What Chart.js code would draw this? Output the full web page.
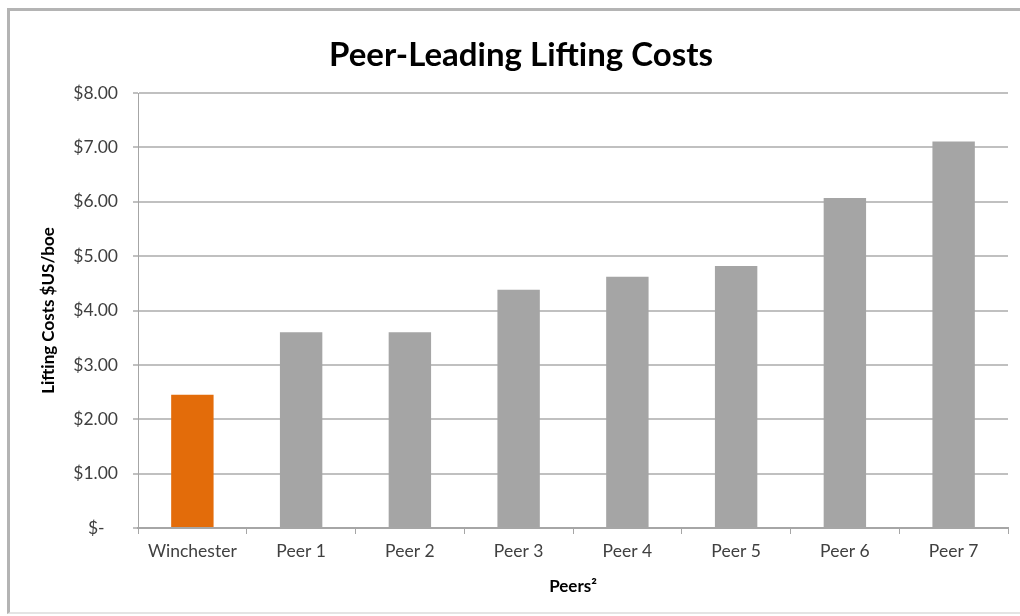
<!DOCTYPE html>
<html>
<head>
<meta charset="utf-8">
<script src="https://cdn.jsdelivr.net/npm/chart.js@4/dist/chart.umd.min.js"></script>
<style>
  html, body { margin: 0; padding: 0; background: #ffffff; }
  #wrap { position: relative; width: 1020px; height: 616px; overflow: hidden; }
  #frame { position: absolute; left: 7px; top: 8px; width: 1040px; height: 606px; border: 3px solid #b4b4b4; border-bottom: 2px solid #e4e4e4; box-sizing: border-box; }
  #c { position: absolute; left: 0; top: 0; }
</style>
</head>
<body>
<div id="wrap">
  <div id="frame"></div>
  <canvas id="c" width="1020" height="616"></canvas>
</div>
<script>
const categories = ['Winchester', 'Peer 1', 'Peer 2', 'Peer 3', 'Peer 4', 'Peer 5', 'Peer 6', 'Peer 7'];
const liftingCosts = [2.45, 3.60, 3.60, 4.38, 4.62, 4.82, 6.07, 7.11];
const barColors = ['#E36C0A', '#A5A5A5', '#A5A5A5', '#A5A5A5', '#A5A5A5', '#A5A5A5', '#A5A5A5', '#A5A5A5'];
const yTickLabels = ['$-   ', '$1.00', '$2.00', '$3.00', '$4.00', '$5.00', '$6.00', '$7.00', '$8.00'];
const chartTitle = 'Peer-Leading Lifting Costs';
const yAxisTitle = 'Lifting Costs $US/boe';
const xAxisTitle = 'Peers\u00B2';

const FONT = 'Lato, "Open Sans", sans-serif';

new Chart(document.getElementById('c'), {
  type: 'bar',
  data: {
    labels: categories,
    datasets: [{
      data: liftingCosts,
      backgroundColor: barColors,
      borderWidth: 0,
      categoryPercentage: 1.0,
      barPercentage: 0.39
    }]
  },
  options: {
    responsive: false,
    animation: false,
    layout: { padding: { left: 34, right: 12, top: 0, bottom: 15 } },
    plugins: {
      legend: { display: false },
      tooltip: { enabled: false },
      title: {
        display: true,
        text: chartTitle,
        color: '#000000',
        font: { family: FONT, size: 33, weight: 'bold' },
        padding: { top: 36, bottom: 17.4 }
      }
    },
    scales: {
      x: {
        grid: { display: true, drawOnChartArea: false, drawTicks: true, tickLength: 6, color: '#a6a6a6', offset: true },
        border: { display: true, color: '#a6a6a6', width: 2 },
        ticks: { color: '#404040', font: { family: FONT, size: 17.5 }, padding: 7 },
        title: { display: true, text: xAxisTitle, color: '#000000', font: { family: FONT, size: 17, weight: 'bold' }, padding: { top: 4, bottom: 4 } },
        afterFit: (s) => { s.height = 73; }
      },
      y: {
        min: 0,
        max: 8,
        ticks: {
          stepSize: 1,
          color: '#404040',
          font: { family: FONT, size: 17.5 },
          padding: 15,
          callback: (v) => yTickLabels[Math.round(v)]
        },
        grid: { color: '#c0c0c0', lineWidth: 2, tickLength: 5, drawTicks: true },
        border: { display: true, color: '#a6a6a6', width: 1 },
        title: { display: true, text: yAxisTitle, color: '#000000', font: { family: FONT, size: 17, weight: 'bold' }, padding: { top: 4, bottom: 4 } },
        afterFit: (s) => { s.width = 104; }
      }
    }
  }
});
</script>
</body>
</html>
